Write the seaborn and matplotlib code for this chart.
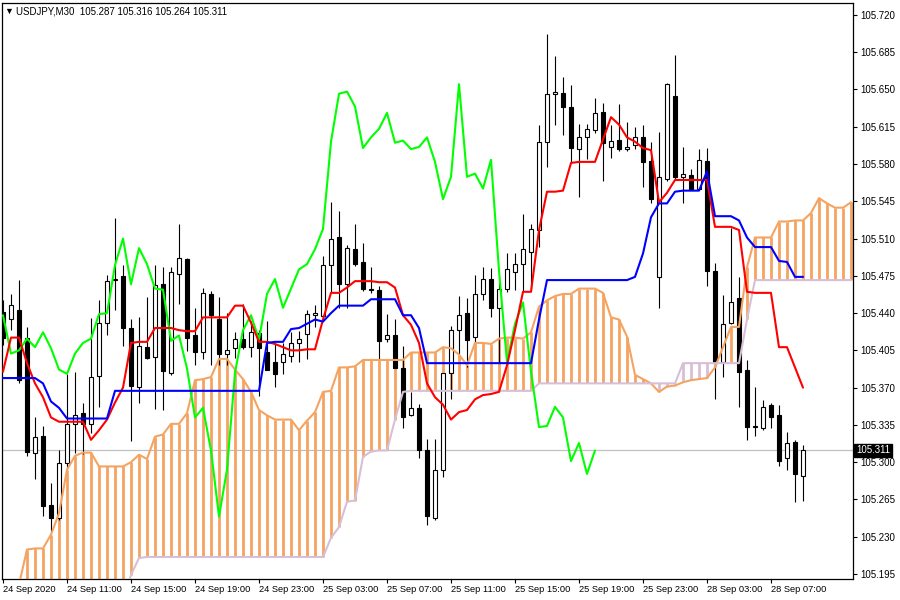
import numpy as np
import matplotlib
matplotlib.use('Agg')
import matplotlib.pyplot as plt
import matplotlib.transforms as mtransforms
import seaborn as sns

# Dane świec (USDJPY M30)
opens = [105.441, 105.434, 105.443, 105.417, 105.309, 105.325, 105.260, 105.248, 105.299, 105.336,
         105.346, 105.336, 105.381, 105.431, 105.471, 105.475, 105.426, 105.371, 105.408, 105.399,
         105.467, 105.384, 105.477, 105.491, 105.419, 105.403, 105.458, 105.434, 105.402, 105.407,
         105.416, 105.408, 105.421, 105.403, 105.394, 105.394, 105.400, 105.412, 105.420, 105.438,
         105.437, 105.485, 105.511, 105.467, 105.500, 105.488, 105.463, 105.462, 105.416, 105.419,
         105.388, 105.344, 105.351, 105.311, 105.248, 105.293, 105.384, 105.424, 105.440, 105.418,
         105.458, 105.472, 105.445, 105.463, 105.479, 105.486, 105.497, 105.518, 105.601, 105.646,
         105.647, 105.634, 105.594, 105.605, 105.612, 105.629, 105.596, 105.603, 105.594, 105.598,
         105.605, 105.583, 105.474, 105.566, 105.644, 105.568, 105.570, 105.557, 105.583, 105.480,
         105.394, 105.431, 105.454, 105.387, 105.333, 105.332, 105.354, 105.344, 105.304, 105.319,
         105.287]
highs = [105.452, 105.458, 105.471, 105.427, 105.342, 105.334, 105.280, 105.311, 105.383, 105.385,
         105.356, 105.435, 105.452, 105.476, 105.529, 105.485, 105.434, 105.436, 105.455, 105.485,
         105.483, 105.483, 105.524, 105.492, 105.445, 105.464, 105.461, 105.455, 105.440, 105.422,
         105.449, 105.433, 105.424, 105.433, 105.412, 105.412, 105.422, 105.423, 105.443, 105.448,
         105.494, 105.544, 105.536, 105.504, 105.524, 105.506, 105.483, 105.465, 105.439, 105.434,
         105.409, 105.366, 105.355, 105.322, 105.322, 105.384, 105.428, 105.456, 105.454, 105.476,
         105.483, 105.482, 105.469, 105.496, 105.496, 105.533, 105.524, 105.617, 105.702, 105.681,
         105.662, 105.654, 105.618, 105.618, 105.642, 105.637, 105.617, 105.636, 105.619, 105.615,
         105.617, 105.601, 105.610, 105.656, 105.682, 105.596, 105.575, 105.594, 105.595, 105.487,
         105.457, 105.520, 105.474, 105.396, 105.371, 105.358, 105.356, 105.354, 105.328, 105.321,
         105.316]
lows = [105.410, 105.424, 105.374, 105.306, 105.284, 105.249, 105.234, 105.246, 105.294, 105.309,
        105.308, 105.327, 105.352, 105.419, 105.443, 105.409, 105.320, 105.356, 105.397, 105.350,
        105.349, 105.382, 105.449, 105.404, 105.391, 105.397, 105.391, 105.391, 105.391, 105.398,
        105.406, 105.399, 105.362, 105.387, 105.371, 105.383, 105.394, 105.394, 105.397, 105.427,
        105.433, 105.459, 105.445, 105.445, 105.484, 105.461, 105.459, 105.397, 105.413, 105.388,
        105.332, 105.343, 105.304, 105.241, 105.246, 105.286, 105.359, 105.402, 105.389, 105.413,
        105.452, 105.436, 105.393, 105.460, 105.462, 105.460, 105.462, 105.502, 105.577, 105.617,
        105.607, 105.581, 105.549, 105.585, 105.609, 105.564, 105.586, 105.592, 105.592, 105.594,
        105.558, 105.543, 105.445, 105.564, 105.566, 105.543, 105.556, 105.556, 105.465, 105.359,
        105.380, 105.430, 105.352, 105.321, 105.325, 105.330, 105.332, 105.296, 105.293, 105.263,
        105.264]
closes = [105.417, 105.448, 105.377, 105.310, 105.324, 105.259, 105.248, 105.299, 105.336, 105.344,
          105.336, 105.380, 105.431, 105.470, 105.472, 105.426, 105.372, 105.409, 105.398, 105.466,
          105.386, 105.479, 105.492, 105.417, 105.403, 105.459, 105.438, 105.402, 105.405, 105.416,
          105.408, 105.422, 105.407, 105.387, 105.383, 105.402, 105.412, 105.416, 105.439, 105.440,
          105.485, 105.510, 105.467, 105.501, 105.486, 105.463, 105.462, 105.414, 105.419, 105.388,
          105.342, 105.351, 105.311, 105.249, 105.293, 105.384, 105.424, 105.438, 105.415, 105.458,
          105.472, 105.445, 105.463, 105.481, 105.486, 105.500, 105.519, 105.601, 105.646, 105.648,
          105.634, 105.595, 105.605, 105.613, 105.628, 105.600, 105.602, 105.594, 105.596, 105.605,
          105.582, 105.547, 105.568, 105.655, 105.568, 105.571, 105.557, 105.584, 105.480, 105.394,
          105.430, 105.450, 105.385, 105.333, 105.334, 105.352, 105.342, 105.301, 105.318, 105.289,
          105.311]

# Linie Ichimoku
tenkan = [105.385, 105.417, 105.417, 105.393, 105.374, 105.361, 105.342, 105.338, 105.338, 105.338,
          105.338, 105.321, 105.330, 105.340, 105.356, 105.370, 105.412, 105.413, 105.413, 105.426,
          105.426, 105.426, 105.424, 105.423, 105.423, 105.436, 105.436, 105.436, 105.436, 105.447,
          105.447, 105.431, 105.413, 105.413, 105.411, 105.408, 105.405, 105.405, 105.406, 105.406,
          105.434, 105.459, 105.459, 105.464, 105.470, 105.470, 105.470, 105.469, 105.469, 105.464,
          105.438, 105.429, 105.412, 105.374, 105.361, 105.354, 105.340, 105.347, 105.349, 105.359,
          105.363, 105.364, 105.366, 105.391, 105.424, 105.460, 105.460, 105.518, 105.554, 105.554,
          105.555, 105.581, 105.582, 105.582, 105.582, 105.603, 105.624, 105.617, 105.605, 105.601,
          105.595, 105.593, 105.544, 105.553, 105.565, 105.565, 105.565, 105.565, 105.565, 105.521,
          105.521, 105.521, 105.518, 105.460, 105.459, 105.459, 105.459, 105.408, 105.408, 105.389,
          105.370]
kijun = ([105.379] * 5 + [105.374, 105.357, 105.351] + [105.341] * 6 + [105.367] * 19
         + [105.412, 105.413, 105.413, 105.425, 105.426, 105.430, 105.434, 105.432, 105.440]
         + [105.447] * 4 + [105.453] * 4 + [105.438, 105.438, 105.426] + [105.393] * 14
         + [105.434] + [105.471] * 11 + [105.474, 105.496, 105.530, 105.543, 105.543, 105.554]
         + [105.555] * 3 + [105.573] + [105.531] * 3 + [105.527, 105.511] + [105.502] * 3
         + [105.489, 105.488, 105.474, 105.474])
senkou_a = [105.180, 105.180, 105.185, 105.218, 105.219, 105.219, 105.232, 105.252, 105.293, 105.306,
            105.309, 105.309, 105.296, 105.296, 105.296, 105.296, 105.300, 105.307, 105.303, 105.324,
            105.326, 105.336, 105.336, 105.346, 105.377, 105.378, 105.380, 105.397, 105.397, 105.387,
            105.378, 105.366, 105.349, 105.344, 105.340, 105.340, 105.340, 105.330, 105.339, 105.347,
            105.366, 105.367, 105.389, 105.389, 105.390, 105.396, 105.396, 105.396, 105.396, 105.396,
            105.396, 105.403, 105.403, 105.403, 105.403, 105.408, 105.407, 105.401, 105.391, 105.412,
            105.412, 105.411, 105.416, 105.417, 105.417, 105.416, 105.422, 105.446, 105.452, 105.456,
            105.458, 105.458, 105.463, 105.463, 105.463, 105.459, 105.436, 105.434, 105.418, 105.382,
            105.378, 105.374, 105.366, 105.371, 105.372, 105.375, 105.377, 105.378, 105.379, 105.389,
            105.408, 105.427, 105.427, 105.483, 105.511, 105.511, 105.511, 105.526, 105.526, 105.527,
            105.527, 105.534, 105.548, 105.543, 105.539, 105.539, 105.544]
senkou_b = ([105.171] * 16 + [105.194, 105.210] + [105.211] * 23
            + [105.229, 105.239, 105.263, 105.264, 105.305, 105.310, 105.311, 105.311, 105.340, 105.366]
            + [105.367] * 16 + [105.374] * 18 + [105.393] * 8 + [105.434] + [105.471] * 13)

date_labels = ['24 Sep 2020', '24 Sep 11:00', '24 Sep 15:00', '24 Sep 19:00', '24 Sep 23:00',
               '25 Sep 03:00', '25 Sep 07:00', '25 Sep 11:00', '25 Sep 15:00', '25 Sep 19:00',
               '25 Sep 23:00', '28 Sep 03:00', '28 Sep 07:00']
price_ticks = [105.195, 105.230, 105.265, 105.300, 105.335, 105.370, 105.405, 105.440,
               105.475, 105.510, 105.545, 105.580, 105.615, 105.650, 105.685, 105.720]
symbol = 'USDJPY,M30'
last_bid = 105.311

sns.set_style('white')
plt.rcParams['font.family'] = ['Liberation Sans', 'DejaVu Sans']

o = np.array(opens)
h = np.array(highs)
l = np.array(lows)
c = np.array(closes)
bars = np.arange(len(c))
cloud_x = np.arange(len(senkou_a))
sa = np.array(senkou_a)
sb = np.array(senkou_b)

fig = plt.figure(figsize=(9, 6), dpi=100)
ax = fig.add_axes([2 / 900, 1 - 579 / 600, 851 / 900, 576 / 600])

# chmura - kreskowanie pionowe
cloud_cols = np.where(sa >= sb, '#f4a460', '#d8bfd8')
ax.vlines(cloud_x, sa, sb, colors=cloud_cols, linewidth=2.0, zorder=1)

# linia bid
ax.axhline(last_bid, color='#c0c0c0', linewidth=0.9, zorder=0)

# świece
up = c >= o
ax.vlines(bars, l, h, color='black', linewidth=0.8, zorder=3)
body_h = np.maximum(np.abs(c - o), 0.0004)
ax.bar(bars, body_h, bottom=np.minimum(o, c), width=0.6,
       color=np.where(up, 'white', 'black'), edgecolor='black', linewidth=0.8, zorder=4)

# linie wskaźnika
sns.lineplot(x=cloud_x, y=sa, color='#f4a460', linewidth=1.5, estimator=None, ax=ax, zorder=5)
sns.lineplot(x=cloud_x, y=sb, color='#d8bfd8', linewidth=1.5, estimator=None, ax=ax, zorder=5)
sns.lineplot(x=bars[:len(c) - 26], y=c[26:], color='#00ff00', linewidth=1.5, estimator=None, ax=ax, zorder=6)
sns.lineplot(x=bars, y=tenkan, color='red', linewidth=1.5, estimator=None, ax=ax, zorder=7)
sns.lineplot(x=bars, y=kijun, color='blue', linewidth=1.5, estimator=None, ax=ax, zorder=7)

ax.set_xlim(-0.125, 106.25)
ax.set_ylim(105.1903, 105.7312)

# oś cen po prawej
ax.yaxis.tick_right()
ax.set_yticks(price_ticks)
ax.set_yticklabels([f'{p:.3f}' for p in price_ticks])
ax.tick_params(axis='y', right=True, left=False, length=3, width=0.8, pad=2, labelsize=7, colors='black')

# oś czasu
ax.set_xticks(np.arange(0, len(date_labels) * 8, 8))
ax.set_xticklabels(date_labels)
for lbl in ax.get_xticklabels():
    lbl.set_ha('left')
ax.tick_params(axis='x', bottom=True, length=3, width=0.8, pad=1.5, labelsize=6.7, colors='black')
ax.set_xlabel('')
ax.set_ylabel('')

for sp in ax.spines.values():
    sp.set_color('black')
    sp.set_linewidth(0.9)

# etykieta ostatniej ceny
trans = mtransforms.blended_transform_factory(ax.transAxes, ax.transData)
ax.text(1.004, last_bid, f'{last_bid:.3f}', transform=trans, color='white', fontsize=7,
        va='center', ha='left', clip_on=False, zorder=10,
        bbox=dict(boxstyle='square,pad=0.2', facecolor='black', edgecolor='black'))

# nagłówek
fig.text(4 / 900, 1 - 11 / 600, '▼', fontsize=6.5, va='center', ha='left', color='black')
fig.text(16 / 900, 1 - 11 / 600, f'{symbol}  {o[-1]:.3f} {h[-1]:.3f} {l[-1]:.3f} {c[-1]:.3f}',
         fontsize=7, va='center', ha='left', color='black')

fig.savefig('out.png', dpi=100)
